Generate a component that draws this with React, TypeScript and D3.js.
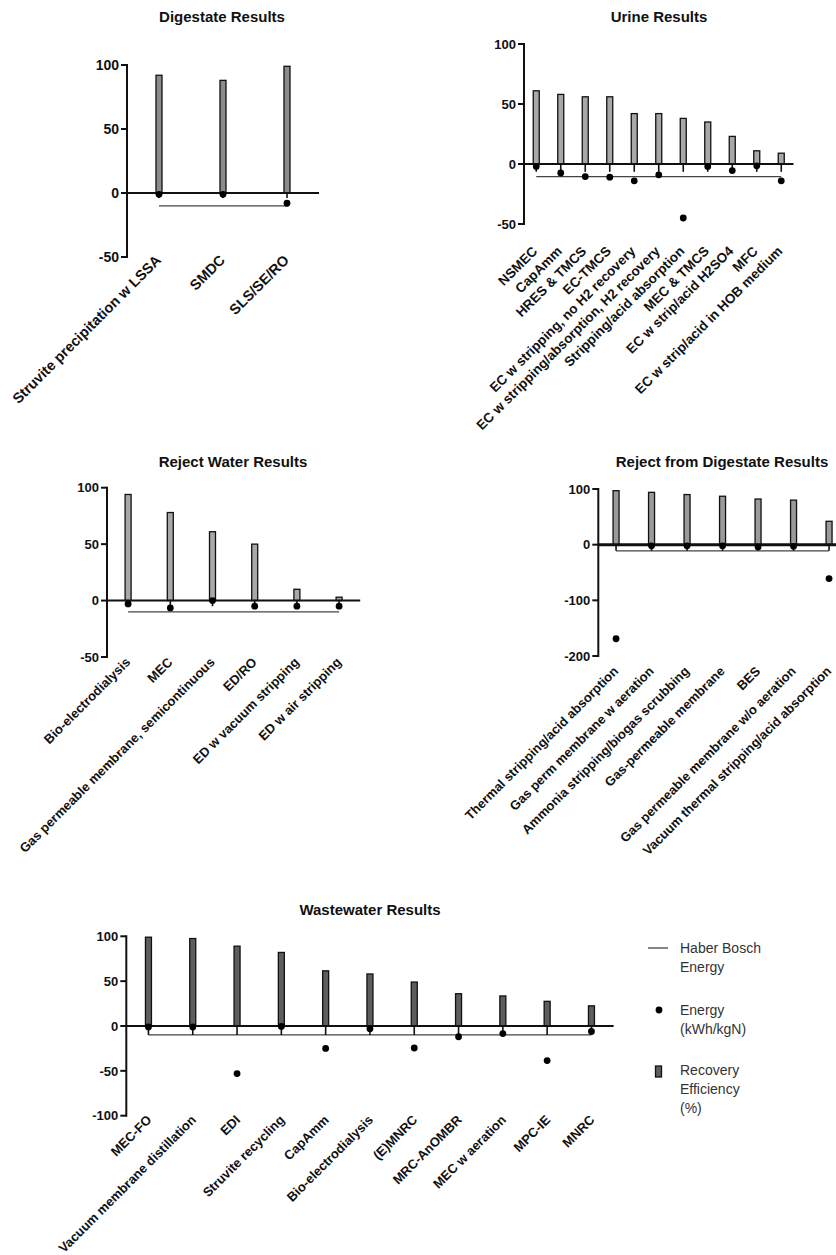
import React from "react";
import * as d3 from "d3";

// ---------- DATA ----------
const digestateCategories = ["Struvite precipitation w LSSA", "SMDC", "SLS/SE/RO"];
const digestateRecovery = [92, 88, 99];
const digestateEnergy = [-1, -1, -8];
const digestateHaberBosch = -10;

const urineCategories = [
  "NSMEC",
  "CapAmm",
  "HRES & TMCS",
  "EC-TMCS",
  "EC w stripping, no H2 recovery",
  "EC w stripping/absorption, H2 recovery",
  "Stripping/acid absorption",
  "MEC & TMCS",
  "EC w strip/acid H2SO4",
  "MFC",
  "EC w strip/acid in HOB medium",
];
const urineRecovery = [61, 58, 56, 56, 42, 42, 38, 35, 23, 11, 9];
const urineEnergy = [-2, -7.5, -10.5, -11, -14, -9, -45, -2, -5.5, -1.5, -14];
const urineHaberBosch = -10.5;

const rejectWaterCategories = [
  "Bio-electrodialysis",
  "MEC",
  "Gas permeable membrane, semicontinuous",
  "ED/RO",
  "ED w vacuum stripping",
  "ED w air stripping",
];
const rejectWaterRecovery = [94, 78, 61, 50, 10, 3];
const rejectWaterEnergy = [-3, -6.5, 0, -5, -5, -5];
const rejectWaterHaberBosch = -10;

const rejectDigestateCategories = [
  "Thermal stripping/acid absorption",
  "Gas perm membrane w aeration",
  "Ammonia stripping/biogas scrubbing",
  "Gas-permeable membrane",
  "BES",
  "Gas permeable membrane w/o aeration",
  "Vacuum thermal stripping/acid absorption",
];
const rejectDigestateRecovery = [97, 94, 90, 87, 82, 80, 42];
const rejectDigestateEnergy = [-169, -2, -2, -2, -4, -3, -61];
const rejectDigestateHaberBosch = -11;

const wastewaterCategories = [
  "MEC-FO",
  "Vacuum membrane distillation",
  "EDI",
  "Struvite recycling",
  "CapAmm",
  "Bio-electrodialysis",
  "(E)MNRC",
  "MRC-AnOMBR",
  "MEC w aeration",
  "MPC-IE",
  "MNRC",
];
const wastewaterRecovery = [99, 97.5, 89, 82, 61.5, 58, 49, 36, 33.5, 27.5, 22.5];
const wastewaterEnergy = [-1, -1, -53, -0.5, -25, -3, -24.5, -12, -8.5, -38.5, -6];
const wastewaterHaberBosch = -10;

const ticks50 = [100, 50, 0, -50];
const ticksRfD = [100, 0, -100, -200];
const ticksWW = [100, 50, 0, -50, -100];

const legendItems = [
  ["Haber Bosch", "Energy"],
  ["Energy", "(kWh/kgN)"],
  ["Recovery", "Efficiency", "(%)"],
];

// ---------- LAYOUT ----------
const FONT = "'Liberation Sans', Arial, Helvetica, sans-serif";

type PanelSpec = {
  title: string;
  cats: string[];
  rec: number[];
  energy: number[];
  hb: number;
  stem: number;
  ticks: number[];
  domain: [number, number];
  x0: number;
  step: number;
  yTop: number;
  yBottom: number;
  titleX: number;
  titleY: number;
  labelDx: number;
  labelDy: number;
  labelSize: number;
  tickSize: number;
  fill: string;
  zeroWidth: number;
};

const panels: PanelSpec[] = [
  {
    title: "Digestate Results",
    cats: digestateCategories,
    rec: digestateRecovery,
    energy: digestateEnergy,
    hb: digestateHaberBosch,
    stem: -4,
    ticks: ticks50,
    domain: [-50, 100],
    x0: 127,
    step: 64,
    yTop: 65,
    yBottom: 257,
    titleX: 222,
    titleY: 22,
    labelDx: 3,
    labelDy: 4,
    labelSize: 14.5,
    tickSize: 14,
    fill: "#8c8c8c",
    zeroWidth: 2,
  },
  {
    title: "Urine Results",
    cats: urineCategories,
    rec: urineRecovery,
    energy: urineEnergy,
    hb: urineHaberBosch,
    stem: -6.5,
    ticks: ticks50,
    domain: [-50, 100],
    x0: 524,
    step: 24.5,
    yTop: 44,
    yBottom: 224,
    titleX: 659,
    titleY: 22,
    labelDx: 2,
    labelDy: 28,
    labelSize: 13.5,
    tickSize: 13,
    fill: "#a8a8a8",
    zeroWidth: 2,
  },
  {
    title: "Reject Water Results",
    cats: rejectWaterCategories,
    rec: rejectWaterRecovery,
    energy: rejectWaterEnergy,
    hb: rejectWaterHaberBosch,
    stem: -5,
    ticks: ticks50,
    domain: [-50, 100],
    x0: 107,
    step: 42.2,
    yTop: 487.7,
    yBottom: 657,
    titleX: 233,
    titleY: 467,
    labelDx: 3,
    labelDy: 6,
    labelSize: 13,
    tickSize: 13,
    fill: "#a8a8a8",
    zeroWidth: 2,
  },
  {
    title: "Reject from Digestate Results",
    cats: rejectDigestateCategories,
    rec: rejectDigestateRecovery,
    energy: rejectDigestateEnergy,
    hb: rejectDigestateHaberBosch,
    stem: -11,
    ticks: ticksRfD,
    domain: [-200, 100],
    x0: 598.3,
    step: 35.5,
    yTop: 489,
    yBottom: 656,
    titleX: 722,
    titleY: 467,
    labelDx: 3,
    labelDy: 16,
    labelSize: 13,
    tickSize: 13,
    fill: "#9a9a9a",
    zeroWidth: 3,
  },
  {
    title: "Wastewater Results",
    cats: wastewaterCategories,
    rec: wastewaterRecovery,
    energy: wastewaterEnergy,
    hb: wastewaterHaberBosch,
    stem: -10,
    ticks: ticksWW,
    domain: [-100, 100],
    x0: 126.3,
    step: 44.3,
    yTop: 936.3,
    yBottom: 1115.7,
    titleX: 370,
    titleY: 915,
    labelDx: 4,
    labelDy: 5,
    labelSize: 13,
    tickSize: 13,
    fill: "#5e5e5e",
    zeroWidth: 2,
  },
];

const BAR_W = 6;

function Panel({ p }: { p: PanelSpec }) {
  const x = d3
    .scaleBand<string>()
    .domain(p.cats)
    .range([p.x0, p.x0 + p.step * p.cats.length])
    .paddingInner(0)
    .paddingOuter(0);
  const y = d3.scaleLinear().domain(p.domain).range([p.yBottom, p.yTop]);
  const cx = (c: string) => (x(c) as number) + x.bandwidth() / 2;
  const first = cx(p.cats[0]);
  const last = cx(p.cats[p.cats.length - 1]);
  const [r0, r1] = x.range();

  return (
    <g>
      <text
        x={p.titleX}
        y={p.titleY}
        textAnchor="middle"
        fontFamily={FONT}
        fontWeight="bold"
        fontSize={15}
        fill="#111"
      >
        {p.title}
      </text>
      {p.cats.map((c, i) => (
        <rect
          key={"b" + i}
          x={cx(c) - BAR_W / 2}
          y={y(p.rec[i])}
          width={BAR_W}
          height={y(0) - y(p.rec[i])}
          fill={p.fill}
          stroke="#111"
          strokeWidth={1.3}
        />
      ))}
      <line x1={first} x2={last} y1={y(p.hb)} y2={y(p.hb)} stroke="#444" strokeWidth={1.3} />
      {p.cats.map((c, i) => (
        <line
          key={"s" + i}
          x1={cx(c)}
          x2={cx(c)}
          y1={y(0)}
          y2={y(p.stem)}
          stroke="#111"
          strokeWidth={1.6}
        />
      ))}
      <line x1={r0} x2={r1} y1={y(0)} y2={y(0)} stroke="#111" strokeWidth={p.zeroWidth} />
      <line x1={r0} x2={r0} y1={p.yTop - 1} y2={p.yBottom + 1} stroke="#111" strokeWidth={2} />
      {p.ticks.map((t) => (
        <g key={"t" + t}>
          <line x1={r0 - 6} x2={r0} y1={y(t)} y2={y(t)} stroke="#111" strokeWidth={2} />
          <text
            x={r0 - 8}
            y={y(t)}
            dy="0.36em"
            textAnchor="end"
            fontFamily={FONT}
            fontWeight="bold"
            fontSize={p.tickSize}
            fill="#111"
          >
            {t}
          </text>
        </g>
      ))}
      {p.cats.map((c, i) => (
        <circle key={"d" + i} cx={cx(c)} cy={y(p.energy[i])} r={3.4} fill="#000" />
      ))}
      {p.cats.map((c, i) => (
        <text
          key={"l" + i}
          transform={`translate(${cx(c) + p.labelDx},${p.yBottom + p.labelDy}) rotate(-45)`}
          textAnchor="end"
          fontFamily={FONT}
          fontWeight="bold"
          fontSize={p.labelSize}
          fill="#111"
        >
          {c}
        </text>
      ))}
    </g>
  );
}

function Legend() {
  const lx = 680;
  const lineH = 19;
  const tops = [953, 1015, 1075];
  return (
    <g fontFamily={FONT} fontSize={14} fill="#333">
      <line x1={648} x2={668} y1={948} y2={948} stroke="#444" strokeWidth={1.3} />
      <circle cx={659} cy={1010} r={3.4} fill="#000" />
      <rect x={655.5} y={1066} width={6} height={11} fill="#5e5e5e" stroke="#111" strokeWidth={1.3} />
      {legendItems.map((lines, i) =>
        lines.map((t, j) => (
          <text key={i + "-" + j} x={lx} y={tops[i] + j * lineH}>
            {t}
          </text>
        ))
      )}
    </g>
  );
}

export default function App() {
  return (
    <div style={{ position: "absolute", left: 0, top: 0 }}>
      <svg width={836} height={1255} viewBox="0 0 836 1255" style={{ display: "block", background: "#fff" }}>
        <rect width={836} height={1255} fill="#fff" />
        {panels.map((p, i) => (
          <Panel key={i} p={p} />
        ))}
        <Legend />
      </svg>
    </div>
  );
}
